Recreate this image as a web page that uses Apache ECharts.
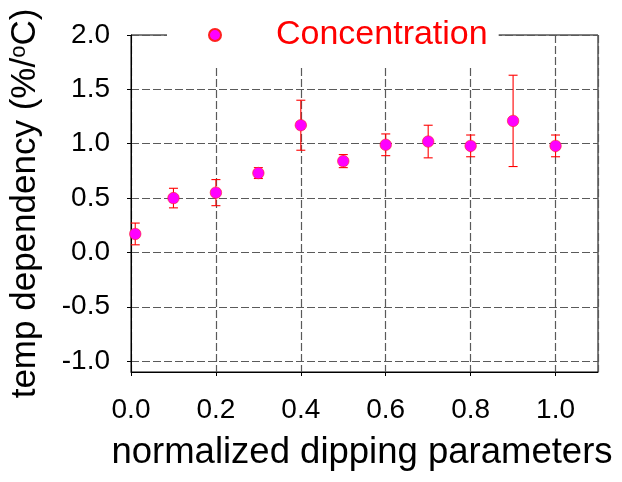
<!DOCTYPE html>
<html>
<head>
<meta charset="utf-8">
<title>temp dependency</title>
<script src="https://cdn.jsdelivr.net/npm/echarts@6/dist/echarts.min.js"></script>
<style>
  html, body { margin: 0; padding: 0; background: #fff; }
  #chart { width: 622px; height: 482px; }
</style>
</head>
<body>
<div id="chart"></div>
<script>
// values
const xValues = [0.01, 0.1, 0.2, 0.3, 0.4, 0.5, 0.6, 0.7, 0.8, 0.9, 1.0]
const yValues = [0.17, 0.50, 0.55, 0.73, 1.17, 0.84, 0.99, 1.02, 0.98, 1.21, 0.98]
const yErrors = [0.10, 0.09, 0.12, 0.05, 0.23, 0.06, 0.10, 0.15, 0.10, 0.42, 0.10]
const seriesName = 'Concentration'

const fontFamily = 'Liberation Sans, Arial, sans-serif'

const points = xValues.map(function (x, i) {
  return [x, yValues[i]]
})
const errorData = xValues.map(function (x, i) {
  return [x, yValues[i] - yErrors[i], yValues[i] + yErrors[i]]
})

const gridLine = {
  show: true,
  lineStyle: { color: '#5a5a5a', width: 1.2, type: [8, 3] }
}

const chart = echarts.init(document.getElementById('chart'))

chart.setOption({
  backgroundColor: '#fff',
  animation: false,
  grid: {
    left: 130,
    right: 24,
    top: 35,
    bottom: 110,
    show: true,
    borderColor: '#000',
    borderWidth: 1,
    backgroundColor: 'transparent'
  },
  legend: {
    data: [{ name: seriesName, icon: 'circle' }],
    left: 167,
    top: 4,
    padding: [14, 11, 14, 41],
    backgroundColor: '#fff',
    itemWidth: 20,
    itemHeight: 12,
    itemStyle: { opacity: 1 },
    textStyle: {
      color: '#ff0000',
      fontSize: 34,
      fontFamily: fontFamily,
      padding: [0, 0, 0, 46]
    }
  },
  xAxis: {
    type: 'value',
    min: 0,
    max: 1.1,
    interval: 0.2,
    name: 'normalized dipping parameters',
    nameLocation: 'middle',
    nameGap: 62,
    nameTextStyle: { color: '#000', fontSize: 36.5, fontFamily: fontFamily, padding: [0, 5, 0, 0] },
    axisLine: { show: true, onZero: false, lineStyle: { color: '#000', width: 1 } },
    axisTick: { show: true, length: 4, lineStyle: { color: '#000' } },
    axisLabel: {
      color: '#000',
      fontSize: 28,
      fontFamily: fontFamily,
      margin: 24,
      showMaxLabel: false,
      formatter: function (v) { return v.toFixed(1) }
    },
    splitLine: gridLine
  },
  yAxis: {
    type: 'value',
    min: -1.1,
    max: 2.0,
    splitNumber: 6,
    name: '{a|temp dependency (%/}{s|o}{a|C)}',
    nameLocation: 'middle',
    nameRotate: 90,
    nameGap: 88,
    nameTextStyle: {
      color: '#000',
      fontFamily: fontFamily,
      rich: {
        a: { fontSize: 35, fontFamily: fontFamily, color: '#000' },
        s: { fontSize: 22, fontFamily: fontFamily, color: '#000', verticalAlign: 'top', padding: [0, 0, 12, 0] }
      }
    },
    axisLine: { show: true, onZero: false, lineStyle: { color: '#000', width: 1 } },
    axisTick: { show: true, length: 4, lineStyle: { color: '#000' } },
    axisLabel: {
      color: '#000',
      fontSize: 28,
      fontFamily: fontFamily,
      margin: 21,
      showMinLabel: false,
      formatter: function (v) { return v.toFixed(1) }
    },
    splitLine: gridLine
  },
  series: [
    {
      type: 'custom',
      name: 'error',
      z: 2,
      silent: true,
      data: errorData,
      renderItem: function (params, api) {
        const x = api.value(0)
        const low = api.coord([x, api.value(1)])
        const high = api.coord([x, api.value(2)])
        const cap = 4.5
        const style = { stroke: '#ff0000', lineWidth: 1.1 }
        return {
          type: 'group',
          children: [
            { type: 'line', shape: { x1: low[0], y1: low[1], x2: high[0], y2: high[1] }, style: style },
            { type: 'line', shape: { x1: low[0] - cap, y1: low[1], x2: low[0] + cap, y2: low[1] }, style: style },
            { type: 'line', shape: { x1: high[0] - cap, y1: high[1], x2: high[0] + cap, y2: high[1] }, style: style }
          ]
        }
      }
    },
    {
      type: 'scatter',
      name: seriesName,
      z: 3,
      symbol: 'circle',
      symbolSize: 11.5,
      itemStyle: { color: '#ff00ff', borderColor: '#ff2020', borderWidth: 0.6, opacity: 1 },
      data: points
    }
  ]
})
</script>
</body>
</html>
